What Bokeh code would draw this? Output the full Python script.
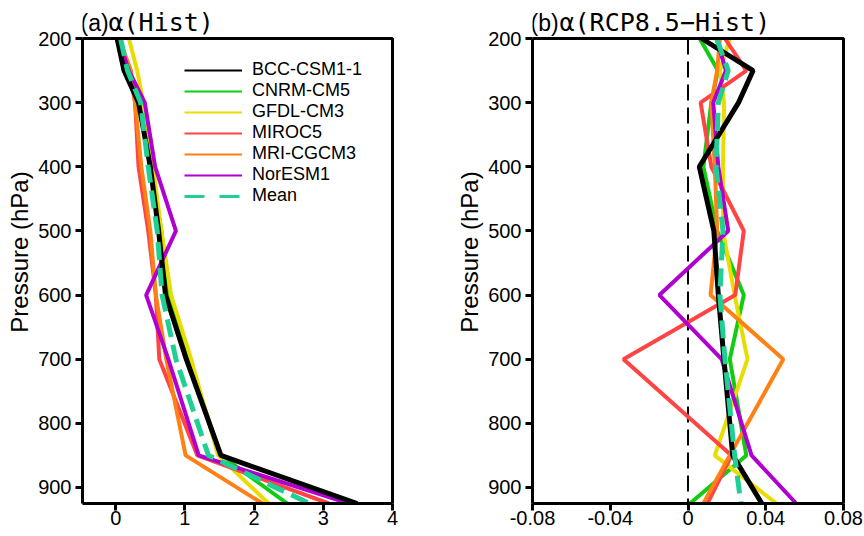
from bokeh.plotting import figure
from bokeh.models import Range1d, FixedTicker, Label, Legend, LegendItem, BoxAnnotation
from bokeh.layouts import row
from bokeh.embed import file_html
from bokeh.resources import INLINE

# ---------------- data ----------------
levels = [200, 250, 300, 400, 500, 600, 700, 850, 925]
models = ["BCC-CSM1-1", "CNRM-CM5", "GFDL-CM3", "MIROC5", "MRI-CGCM3", "NorESM1", "Mean"]

# (a) alpha, historical
hist_bcc   = [0.02, 0.12, 0.33, 0.50, 0.62, 0.72, 1.02, 1.52, 3.49]
hist_cnrm  = [0.02, 0.12, 0.33, 0.50, 0.66, 0.77, 1.04, 1.52, 2.48]
hist_gfdl  = [0.19, 0.31, 0.40, 0.54, 0.66, 0.80, 1.09, 1.48, 2.21]
hist_miroc = [0.04, 0.20, 0.28, 0.33, 0.47, 0.58, 0.63, 1.18, 3.08]
hist_mri   = [0.05, 0.22, 0.28, 0.37, 0.50, 0.58, 0.73, 1.01, 2.12]
hist_nor   = [0.04, 0.19, 0.42, 0.57, 0.87, 0.44, 0.76, 1.20, 3.37]
hist_mean  = [0.07, 0.17, 0.36, 0.47, 0.60, 0.67, 0.87, 1.34, 2.80]

# (b) alpha, RCP8.5 - Hist
diff_bcc   = [0.0070, 0.0335, 0.0260, 0.0058, 0.0133, 0.0156, 0.0185, 0.0230, 0.0380]
diff_cnrm  = [0.0060, 0.0154, 0.0120, 0.0079, 0.0150, 0.0287, 0.0215, 0.0300, 0.0010]
diff_gfdl  = [0.0215, 0.0164, 0.0186, 0.0180, 0.0180, 0.0240, 0.0306, 0.0138, 0.0455]
diff_miroc = [0.0190, 0.0300, 0.0065, 0.0120, 0.0287, 0.0243, -0.0332, 0.0224, 0.0100]
diff_mri   = [0.0164, 0.0150, 0.0120, 0.0138, 0.0150, 0.0116, 0.0490, 0.0215, 0.0079]
diff_nor   = [0.0147, 0.0195, 0.0130, 0.0156, 0.0207, -0.0147, 0.0173, 0.0327, 0.0557]
diff_mean  = [0.0147, 0.0207, 0.0156, 0.0144, 0.0180, 0.0164, 0.0190, 0.0240, 0.0272]

p_top, p_bottom = 200, 925
y_ticks = [200, 300, 400, 500, 600, 700, 800, 900]
x_lim_a = (-0.48, 4)
x_ticks_a = [0, 1, 2, 3, 4]
x_lim_b = (-0.08, 0.08)
x_ticks_b = [-0.08, -0.04, 0, 0.04, 0.08]
x_labels_b = ["-0.08", "-0.04", "0", "0.04", "0.08"]

# ---------------- styles ----------------
colors = ["#000000", "#11cc11", "#e8dc00", "#ff4444", "#ff8015", "#b000d0", "#1fcf93"]
widths = [5, 4, 4, 4, 4, 4, 5]
FONT = "Liberation Sans"
FRAME_TOP_PX = 38      # pixels between 200 hPa and figure top (room for title)
FRAME_H_PX = 465       # pixels from 200 hPa to 925 hPa
HEIGHT = 536
PAD_PX = 2             # room right of the box so its edge is not clipped
extra = FRAME_TOP_PX * (p_bottom - p_top) / FRAME_H_PX


def make_fig(width, min_left, min_right, x_lim, data_w_px, xticks):
    pad = PAD_PX * (x_lim[1] - x_lim[0]) / data_w_px
    p = figure(width=width, height=HEIGHT, output_backend="svg", toolbar_location=None,
               x_range=Range1d(x_lim[0], x_lim[1] + pad), y_range=Range1d(p_bottom, p_top - extra),
               min_border_left=min_left, min_border_right=min_right,
               min_border_top=0, min_border_bottom=HEIGHT - FRAME_TOP_PX - FRAME_H_PX)
    p.title.text = ""
    p.title.standoff = 0
    p.xgrid.visible = False
    p.ygrid.visible = False
    p.outline_line_color = None
    p.background_fill_color = "white"
    p.border_fill_color = "white"
    for ax in (p.xaxis[0], p.yaxis[0]):
        ax.axis_line_width = 3
        ax.major_tick_line_width = 3
        ax.major_tick_in = 0
        ax.major_tick_out = 7
        ax.minor_tick_line_color = None
        ax.major_label_text_font = FONT
        ax.major_label_text_font_size = "20px"
        ax.major_label_text_color = "black"
    p.yaxis.bounds = (p_top, p_bottom)
    p.xaxis.bounds = x_lim
    p.xaxis.major_label_standoff = 0
    p.yaxis.major_label_standoff = 4
    p.xaxis.ticker = FixedTicker(ticks=xticks)
    p.yaxis.ticker = FixedTicker(ticks=y_ticks)
    p.yaxis.axis_label = "Pressure (hPa)"
    p.yaxis.axis_label_text_font = FONT
    p.yaxis.axis_label_text_font_size = "24px"
    p.yaxis.axis_label_text_font_style = "normal"
    p.yaxis.axis_label_text_color = "black"
    p.yaxis.axis_label_standoff = 2
    # frame box for the data area (200-925 hPa)
    p.add_layout(BoxAnnotation(left=x_lim[0], right=x_lim[1], top=p_top, bottom=p_bottom,
                               fill_alpha=0, line_color="black", line_alpha=1, line_width=3))
    return p


def add_title(p, tag, rest, rest_x):
    y = FRAME_TOP_PX + FRAME_H_PX - 22
    p.add_layout(Label(x=-2, y=y, x_units="screen", y_units="screen", text=tag,
                       text_font=FONT, text_font_size="23px", text_baseline="middle",
                       text_color="black"))
    p.add_layout(Label(x=rest_x, y=y, x_units="screen", y_units="screen", text=rest,
                       text_font="DejaVu Sans Mono", text_font_size="25px",
                       text_baseline="middle", text_color="black"))


order = [1, 2, 3, 4, 5, 0, 6]

# ---------------- panel (a) ----------------
p1 = make_fig(402, 82, 8, x_lim_a, 310, x_ticks_a)
hist = [hist_bcc, hist_cnrm, hist_gfdl, hist_miroc, hist_mri, hist_nor, hist_mean]
for i in order:
    kw = dict(line_dash="18 8") if i == 6 else {}
    p1.line(hist[i], levels, line_color=colors[i], line_width=widths[i], **kw)

# thin legend keys (single-point lines draw nothing in the plot area)
items = []
for i, name in enumerate(models):
    kw = dict(line_dash="20 15", line_width=3) if i == 6 else dict(line_width=2)
    r = p1.line(hist[i][:1], levels[:1], line_color=colors[i], **kw)
    items.append(LegendItem(label=name, renderers=[r]))
legend = Legend(items=items, location=(102, 297), margin=0, padding=0, spacing=0,
                glyph_width=58, glyph_height=20, label_height=20, label_standoff=10,
                label_text_font=FONT, label_text_font_size="18px", label_text_color="black",
                background_fill_alpha=0, border_line_alpha=0)
p1.add_layout(legend, "center")
add_title(p1, "(a)", "\u03b1(Hist)", 26)

# ---------------- panel (b) ----------------
p2 = make_fig(462, 130, 19, x_lim_b, 311, x_ticks_b)
p2.xaxis.major_label_overrides = {(0 if t == 0 else t): lab for t, lab in zip(x_ticks_b, x_labels_b)}
# zero reference line
p2.line([0, 0], [p_top, p_bottom], line_color="black", line_width=2, line_dash="16 7")
diff = [diff_bcc, diff_cnrm, diff_gfdl, diff_miroc, diff_mri, diff_nor, diff_mean]
for i in order:
    kw = dict(line_dash="18 8") if i == 6 else {}
    p2.line(diff[i], levels, line_color=colors[i], line_width=widths[i], **kw)
add_title(p2, "(b)", "\u03b1(RCP8.5\u2212Hist)", 27)

layout = row(p1, p2)
open("out.html", "w").write(file_html(layout, INLINE))
